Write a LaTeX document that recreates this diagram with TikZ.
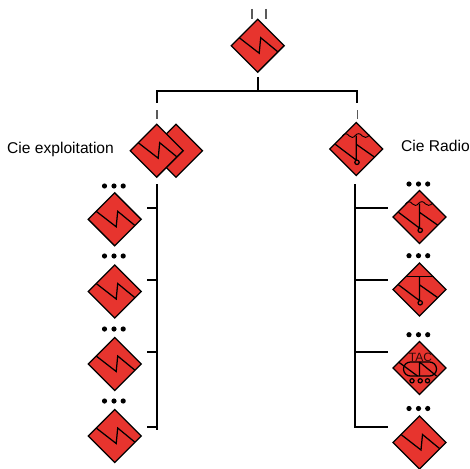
\documentclass[tikz,border=0pt]{standalone}
\usepackage{fontspec}
\setmainfont{Liberation Sans}
\usetikzlibrary{shapes.geometric}
\definecolor{fire}{RGB}{231,52,46}
\definecolor{dash}{RGB}{90,90,90}
\tikzset{
  x=1pt,y=-1pt,
  unit/.style={diamond,draw=black,fill=fire,line width=1.3pt,minimum width=53.5pt,minimum height=53.5pt,inner sep=0pt,aspect=1},
  sym/.style={line width=1.25pt,draw=black},
  trunk/.style={line width=2.2pt,draw=black},
  stub/.style={line width=1.3pt,draw=dash},
  dot/.style={circle,fill=black,inner sep=0pt,minimum size=5.2pt},
  lab/.style={font=\fontsize{15.6pt}{18pt}\selectfont,inner sep=0pt},
}
\newcommand{\zz}[1]{\draw[sym,shift={(#1.center)}] (-18.5,-8) -- (1.5,7.5) -- (3,-8) -- (20,6);}
\newcommand{\flag}[1]{\draw[sym,shift={(#1.center)}] (-21,-4.7) -- (0.2,11.3) (0,-13.5) -- (0,11) (0,-4.7) -- (18,8);
  \draw[sym,fill=none,shift={(#1.center)}] (0.7,13.3) circle (2.2);}
\newcommand{\wave}[1]{\draw[sym,line width=.9pt,shift={(#1.center)}] (-14,-13) .. controls (-12,-16) and (-9,-16) .. (-7,-13) .. controls (-5,-11) and (-3,-11) .. (-1,-13.5) .. controls (1,-16) and (4,-16) .. (6,-13) .. controls (8,-11) and (10,-11) .. (13.5,-14);}
\newcommand{\threedots}[3]{\node[dot] (#1a) at (#2-9.5,#3) {};\node[dot] (#1b) at (#2,#3) {};\node[dot] (#1c) at (#2+9.2,#3) {};}
\begin{document}
\begin{tikzpicture}
\useasboundingbox (0,0) rectangle (470,468);
% top
\node[unit] (top) at (257.7,45.7) {}; \zz{top}
\coordinate (ta) at (252,9); \coordinate (tb) at (252,19);
\coordinate (tc) at (266,9); \coordinate (td) at (266,19);
\draw[stub] (ta) -- (tb); \draw[stub] (tc) -- (td);
% bus
\coordinate (busm) at (258,90.7);
\coordinate (busl) at (156.7,90.7);
\coordinate (busr) at (357.3,90.7);
\coordinate (topo) at (258,77);
\draw[trunk,line width=2.4pt] (topo) -- (busm);
\draw[trunk] (156.7,102.5) -- (busl) -- (busr) -- (357.3,102.5);
\coordinate (la) at (157,110); \coordinate (lb) at (157,119);
\coordinate (ra) at (357.3,110); \coordinate (rb) at (357.3,119);
\draw[stub] (la) -- (lb); \draw[stub] (ra) -- (rb);
% level 2
\node[unit] (back) at (176,150.7) {};
\node[unit] (exp) at (156.7,150.7) {}; \zz{exp}
\node[unit] (rad) at (356.3,149) {}; \flag{rad}\wave{rad}
\node[lab,anchor=west] (lexp) at (7,149.5) {Cie exploitation};
\node[lab,anchor=west] (lrad) at (401,146) {Cie Radio};
% left column
\coordinate (lt) at (156.7,184); \coordinate (lbot) at (156.7,430);
\draw[trunk] (lt) -- (lbot);
\foreach \n/\yd/\yt/\yp in {a/219.3/207.7/186,b/291.5/280/256,c/364/352/329,d/436/427/401}{
  \node[unit] (l\n) at (114.7,\yd) {}; \zz{l\n}
  \threedots{ld\n}{114}{\yp}
  \coordinate (lj\n) at (156.7,\yt); \coordinate (lk\n) at (147,\yt);
  \draw[trunk] (lj\n) -- (lk\n);
}
% right column
\coordinate (rt) at (354.7,184); \coordinate (rj4) at (354.7,427); \coordinate (rk4) at (388,427);
\draw[trunk] (rt) -- (rj4) -- (rk4);
\foreach \n/\yt in {1/208,2/280,3/352}{
  \coordinate (rj\n) at (354.7,\yt); \coordinate (rk\n) at (388,\yt);
  \draw[trunk] (rj\n) -- (rk\n);
}
\node[unit] (r1) at (419.5,217) {}; \flag{r1}\wave{r1}
\node[unit] (r2) at (419.5,289.5) {}; \flag{r2}
\draw[sym,shift={(r2.center)}] (-14,-13) -- (14,-13);
\node[unit] (r3) at (419.5,368) {};
\node[unit] (r4) at (419.5,442.5) {}; \zz{r4}
\begin{scope}[shift={(r3.center)}]
  \node[font=\fontsize{12pt}{14pt}\selectfont,inner sep=0pt,text=black!80!fire] (tac) at (1,-11) {TAC};
  \draw[sym,rounded corners=6.9pt] (-16,-6) rectangle (17,8);
  \draw[sym] (-21,-6) -- (-2,8) (0,-6) -- (0,8) (0,-6) -- (17,8);
  \foreach \wx in {-7.5,0.7,8}{\draw[sym] (\wx,12.8) circle (2.1);}
\end{scope}
\threedots{rda}{418.5}{184}
\threedots{rdb}{418.5}{255.7}
\threedots{rdc}{418.5}{334.7}
\threedots{rdd}{418.5}{408.5}
\end{tikzpicture}
\end{document}
